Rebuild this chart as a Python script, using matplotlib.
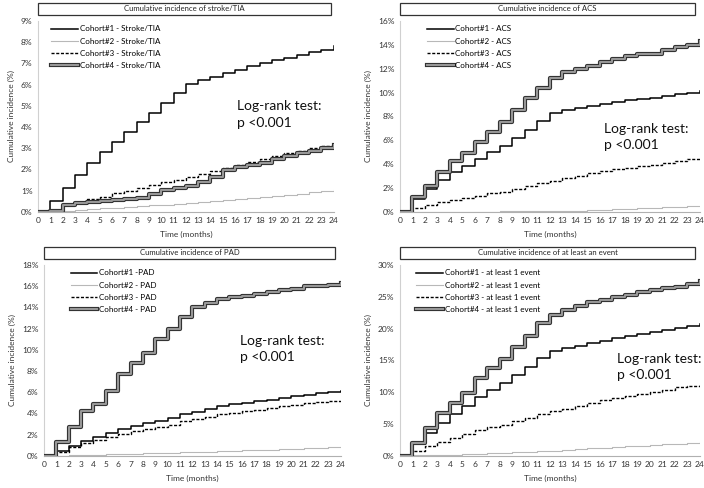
import numpy as np
import matplotlib
matplotlib.use("Agg")
import matplotlib.pyplot as plt
import matplotlib.patches as patches
from matplotlib.lines import Line2D
from matplotlib.legend_handler import HandlerTuple
from matplotlib.ticker import FuncFormatter

plt.rcParams["font.family"] = ["Lato", "DejaVu Sans"]

months = list(range(25))

# stroke / TIA (%)
stroke_c1 = [0, 0.5, 1.12, 1.75, 2.28, 2.8, 3.3, 3.75, 4.23, 4.65, 5.15, 5.6, 6.05, 6.2,
             6.35, 6.55, 6.7, 6.88, 7.02, 7.15, 7.27, 7.38, 7.52, 7.65, 7.8]
stroke_c2 = [0, 0.02, 0.06, 0.1, 0.13, 0.17, 0.2, 0.24, 0.27, 0.3, 0.33, 0.37, 0.4, 0.45,
             0.5, 0.55, 0.6, 0.65, 0.7, 0.75, 0.8, 0.86, 0.92, 0.98, 1.05]
stroke_c3 = [0, 0.1, 0.3, 0.45, 0.6, 0.72, 0.87, 1.0, 1.12, 1.25, 1.4, 1.52, 1.65, 1.78,
             1.92, 2.05, 2.2, 2.35, 2.5, 2.62, 2.75, 2.85, 3.0, 3.1, 3.25]
stroke_c4 = [0, 0.05, 0.32, 0.4, 0.45, 0.5, 0.55, 0.6, 0.65, 0.85, 1.05, 1.12, 1.2, 1.4,
             1.65, 1.95, 2.1, 2.2, 2.3, 2.5, 2.62, 2.75, 2.85, 3.0, 3.15]

# ACS (%)
acs_c1 = [0, 1.05, 1.9, 2.65, 3.3, 3.85, 4.45, 5.0, 5.55, 6.2, 6.9, 7.6, 8.25, 8.5,
          8.7, 8.85, 9.05, 9.2, 9.35, 9.45, 9.55, 9.7, 9.85, 10.0, 10.15]
acs_c2 = [0, 0, 0, 0, 0, 0, 0.01, 0.02, 0.03, 0.03, 0.04, 0.05, 0.06, 0.08,
          0.1, 0.13, 0.16, 0.2, 0.24, 0.28, 0.32, 0.36, 0.4, 0.45, 0.5]
acs_c3 = [0, 0.3, 0.55, 0.8, 0.95, 1.15, 1.35, 1.55, 1.7, 1.95, 2.2, 2.4, 2.6, 2.8,
          3.0, 3.25, 3.4, 3.55, 3.7, 3.8, 3.95, 4.1, 4.3, 4.4, 4.55]
acs_c4 = [0, 1.25, 2.2, 3.35, 4.25, 4.9, 5.85, 6.7, 7.55, 8.5, 9.5, 10.4, 11.25, 11.7,
          12.0, 12.25, 12.55, 12.8, 13.05, 13.2, 13.25, 13.6, 13.8, 13.95, 14.3]

# PAD (%)
pad_c1 = [0, 0.45, 0.9, 1.4, 1.75, 2.15, 2.5, 2.8, 3.05, 3.3, 3.55, 3.95, 4.15, 4.4,
          4.65, 4.85, 5.0, 5.15, 5.3, 5.45, 5.6, 5.75, 5.9, 6.0, 6.15]
pad_c2 = [0, 0.02, 0.05, 0.08, 0.11, 0.14, 0.17, 0.2, 0.23, 0.26, 0.29, 0.32, 0.35, 0.38,
          0.42, 0.46, 0.5, 0.54, 0.58, 0.62, 0.66, 0.7, 0.74, 0.79, 0.85]
pad_c3 = [0, 0.35, 0.8, 1.2, 1.45, 1.75, 2.05, 2.35, 2.55, 2.75, 2.95, 3.25, 3.45, 3.7,
          3.9, 4.05, 4.2, 4.35, 4.55, 4.7, 4.8, 4.95, 5.05, 5.15, 5.25]
pad_c4 = [0, 1.3, 2.7, 4.2, 4.9, 6.1, 7.75, 8.8, 9.65, 11.0, 12.0, 13.1, 14.0, 14.45,
          14.8, 15.0, 15.05, 15.3, 15.45, 15.65, 15.75, 16.0, 16.05, 16.15, 16.3]

# at least one event (%)
any_c1 = [0, 1.8, 3.6, 5.2, 6.6, 7.9, 9.3, 10.4, 11.5, 12.7, 14.0, 15.3, 16.4, 16.9,
          17.3, 17.7, 18.0, 18.5, 18.8, 19.1, 19.4, 19.7, 20.1, 20.4, 20.7]
any_c2 = [0, 0.05, 0.1, 0.15, 0.2, 0.3, 0.35, 0.4, 0.5, 0.55, 0.6, 0.7, 0.8, 0.9,
          1.0, 1.15, 1.3, 1.4, 1.5, 1.6, 1.7, 1.8, 1.9, 2.05, 2.2]
any_c3 = [0, 0.7, 1.6, 2.2, 2.8, 3.4, 4.0, 4.5, 4.9, 5.4, 6.0, 6.5, 7.0, 7.3,
          7.9, 8.3, 8.7, 9.1, 9.4, 9.7, 10.0, 10.3, 10.8, 11.0, 11.3]
any_c4 = [0, 2.0, 4.3, 6.7, 8.3, 9.9, 12.2, 13.8, 15.2, 17.1, 18.9, 20.8, 22.2, 23.0,
          23.6, 24.2, 24.5, 24.9, 25.3, 25.7, 26.0, 26.4, 26.6, 27.0, 27.5]

panels = [
    ("Cumulative incidence of stroke/TIA", [stroke_c1, stroke_c2, stroke_c3, stroke_c4], 9, 1,
     ["Cohort#1 - Stroke/TIA", "Cohort#2 - Stroke/TIA", "Cohort#3 - Stroke/TIA", "Cohort#4 - Stroke/TIA"]),
    ("Cumulative incidence of ACS", [acs_c1, acs_c2, acs_c3, acs_c4], 16, 2,
     ["Cohort#1 - ACS", "Cohort#2 - ACS", "Cohort#3 - ACS", "Cohort#4 - ACS"]),
    ("Cumulative incidence of PAD", [pad_c1, pad_c2, pad_c3, pad_c4], 18, 2,
     ["Cohort#1 -PAD", "Cohort#2 - PAD", "Cohort#3 - PAD", "Cohort#4 - PAD"]),
    ("Cumulative incidence of at least an event", [any_c1, any_c2, any_c3, any_c4], 30, 5,
     ["Cohort#1 - at least 1 event", "Cohort#2 - at least 1 event",
      "Cohort#3 - at least 1 event", "Cohort#4 - at least 1 event"]),
]

# axes rectangles [left, bottom, width, height] in figure fractions
rects = [
    [0.054, 0.566, 0.420, 0.391],
    [0.568, 0.566, 0.426, 0.391],
    [0.0625, 0.066, 0.4215, 0.391],
    [0.568, 0.066, 0.426, 0.391],
]
logrank_pos = [(0.672, 0.51), (0.68, 0.393), (0.66, 0.56), (0.723, 0.466)]
legend_x = [0.04, 0.085, 0.085, 0.05]
box_width = [0.99, 0.985, 0.98, 0.985]

fig = plt.figure(figsize=(7.04, 4.88), dpi=100)

for (title, series, ymax, ystep, labels), rect, lpos, lx, bw in zip(
        panels, rects, logrank_pos, legend_x, box_width):
    ax = fig.add_axes(rect)
    c1, c2, c3, c4 = series
    ax.step(months, c2, where="post", color="#b8b8b8", lw=0.8, zorder=2)
    ax.step(months, c3, where="post", color="black", lw=1.0, ls=(0, (2.2, 1.2)), zorder=3)
    ax.step(months, c1, where="post", color="black", lw=1.1, zorder=4)
    ax.step(months, c4, where="post", color="#333333", lw=3.0, zorder=5)
    ax.step(months, c4, where="post", color="#9a9a9a", lw=1.4, zorder=6)

    ax.set_xlim(0, 24)
    ax.set_ylim(0, ymax)
    ax.set_xticks(months)
    ax.set_yticks(np.arange(0, ymax + ystep / 2, ystep))
    ax.yaxis.set_major_formatter(FuncFormatter(lambda v, p: f"{v:.0f}%"))
    ax.tick_params(length=0, labelsize=6, pad=4, colors="#333333")
    for s in ["top", "right"]:
        ax.spines[s].set_visible(False)
    ax.spines["left"].set_color("#d0d0d0")
    ax.spines["bottom"].set_color("#b0b0b0")
    ax.spines["left"].set_linewidth(0.8)
    ax.spines["bottom"].set_linewidth(0.8)
    ax.set_xlabel("Time (months)", fontsize=6, labelpad=5, color="#333333")
    ax.set_ylabel("Cumulative incidence (%)", fontsize=6, labelpad=4, color="#333333")

    # title box above the axes
    box = patches.Rectangle((0.0, 1.033), bw, 0.062, transform=ax.transAxes,
                            facecolor="white", edgecolor="#333333", lw=0.9, clip_on=False)
    ax.add_patch(box)
    ax.text(bw / 2, 1.064, title, transform=ax.transAxes, ha="center", va="center",
            fontsize=5.6, color="#222222")

    ax.text(lpos[0], lpos[1], "Log-rank test:\np <0.001", transform=ax.transAxes,
            fontsize=10, va="center", ha="left", linespacing=1.45, color="#111111")

    h1 = Line2D([], [], color="black", lw=1.1)
    h2 = Line2D([], [], color="#b8b8b8", lw=0.8)
    h3 = Line2D([], [], color="black", lw=1.0, ls=(0, (2.2, 1.2)))
    h4 = (Line2D([], [], color="#333333", lw=3.0), Line2D([], [], color="#9a9a9a", lw=1.4))
    ax.legend([h1, h2, h3, h4], labels, loc="upper left", bbox_to_anchor=(lx, 0.985),
              frameon=False, fontsize=5.8, handlelength=3.3, handletextpad=0.2,
              labelspacing=0.65, borderaxespad=0.0, borderpad=0.2,
              handler_map={tuple: HandlerTuple(ndivide=1)})

fig.savefig("out.png", dpi=100)
